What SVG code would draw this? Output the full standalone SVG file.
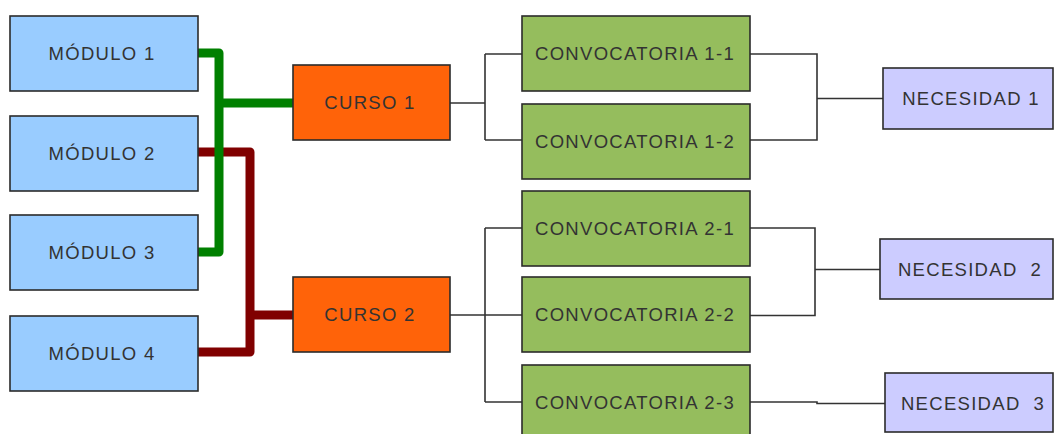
<svg xmlns="http://www.w3.org/2000/svg" width="1056" height="434" viewBox="0 0 1056 434">
<style>
.box{stroke:#2b2b2b;stroke-width:1.6}
.mod{fill:#99ccff}
.cur{fill:#ff6309}
.conv{fill:#95bd5d}
.nec{fill:#ccccff}
.t{font-family:"Liberation Sans",Arial,sans-serif;font-size:18.5px;fill:#333;text-anchor:middle;letter-spacing:1.3px}
.thin{fill:none;stroke:#333;stroke-width:1.6}
.thick{fill:none;stroke-width:9;stroke-linejoin:round}
</style>
<rect width="1056" height="434" fill="#fff"/>
<g id="connectors">
<path class="thick" stroke="#800000" d="M198,152 H250 V352 H198 M250,315 H293"/>
<path class="thick" stroke="#008000" d="M198,53 H219 V252 H198 M219,103 H293"/>
<path class="thin" d="M450,103 H485 M485,54 V140 M485,54 H522 M485,140 H522"/>
<path class="thin" d="M450,315 H522 M485,228 V402 M485,228 H522 M485,402 H522"/>
<path class="thin" d="M750,54 H817 V140 H750 M817,98.5 H883"/>
<path class="thin" d="M750,228 H815 V315.5 H750 M815,269.5 H880"/>
<path class="thin" d="M750,402 H817 V403.5 H885"/>
</g>
<g id="modulo1"><rect class="box mod" x="10" y="16" width="188" height="75"/><text class="t" x="102" y="59.5">MÓDULO 1</text></g>
<g id="modulo2"><rect class="box mod" x="10" y="116" width="188" height="75"/><text class="t" x="102" y="159.5">MÓDULO 2</text></g>
<g id="modulo3"><rect class="box mod" x="10" y="215" width="188" height="75"/><text class="t" x="102" y="258.5">MÓDULO 3</text></g>
<g id="modulo4"><rect class="box mod" x="10" y="316" width="188" height="75"/><text class="t" x="102" y="359.5">MÓDULO 4</text></g>
<g id="curso1"><rect class="box cur" x="293" y="65" width="157" height="75"/><text class="t" x="370" y="109">CURSO 1</text></g>
<g id="curso2"><rect class="box cur" x="293" y="277" width="157" height="75"/><text class="t" x="370" y="321">CURSO 2</text></g>
<g id="conv11"><rect class="box conv" x="522" y="16" width="228" height="75"/><text class="t" x="635" y="59.5">CONVOCATORIA 1-1</text></g>
<g id="conv12"><rect class="box conv" x="522" y="104" width="228" height="75"/><text class="t" x="635" y="147.5">CONVOCATORIA 1-2</text></g>
<g id="conv21"><rect class="box conv" x="522" y="191" width="228" height="75"/><text class="t" x="635" y="234.5">CONVOCATORIA 2-1</text></g>
<g id="conv22"><rect class="box conv" x="522" y="277" width="228" height="75"/><text class="t" x="635" y="320.5">CONVOCATORIA 2-2</text></g>
<g id="conv23"><rect class="box conv" x="522" y="365" width="228" height="75"/><text class="t" x="635" y="408.5">CONVOCATORIA 2-3</text></g>
<g id="nec1"><rect class="box nec" x="883" y="68" width="170" height="61"/><text class="t" x="971" y="105">NECESIDAD 1</text></g>
<g id="nec2"><rect class="box nec" x="880" y="239" width="173" height="60"/><text class="t" x="970" y="276" xml:space="preserve">NECESIDAD  2</text></g>
<g id="nec3"><rect class="box nec" x="885" y="373" width="168" height="59"/><text class="t" x="973" y="409.5" xml:space="preserve">NECESIDAD  3</text></g>
</svg>
